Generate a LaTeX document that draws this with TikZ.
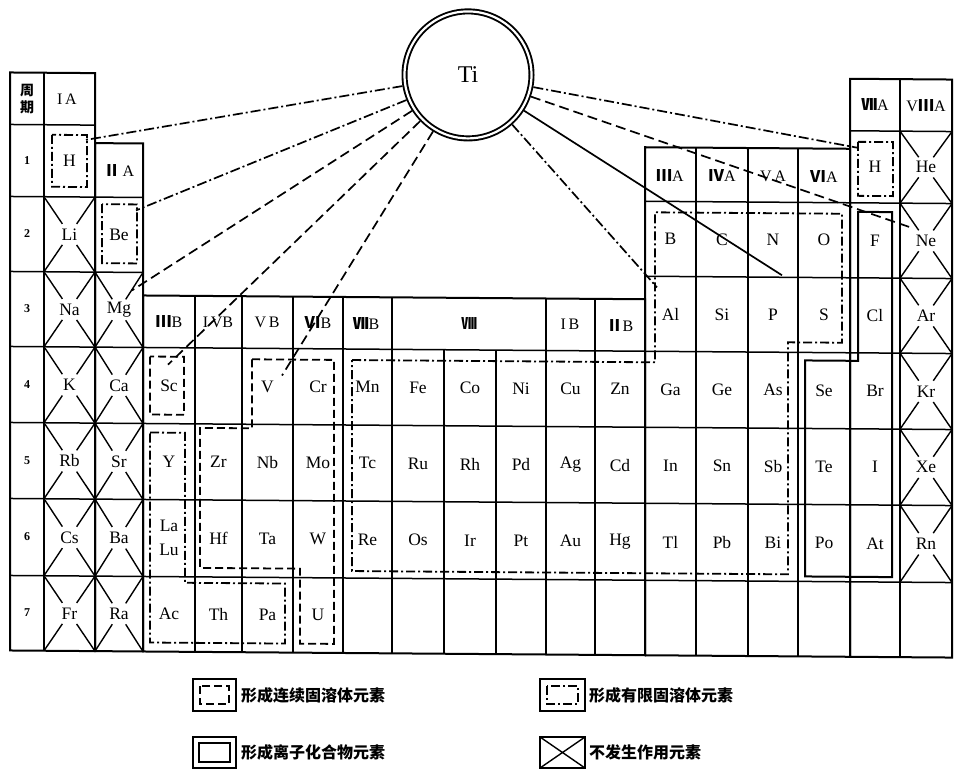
\documentclass[tikz,border=0pt]{standalone}
\usepackage{fontspec}
\setmainfont{Liberation Serif}
\newfontfamily\cjk{Noto Sans CJK SC}
\usetikzlibrary{calc}
\newcommand\rn[1]{{\cjk\bfseries #1}}
\newcommand\XV[1]{\ifcase#1 10\or 44\or 95\or 143\or 195\or 242\or 293\or 343\or 392\or 444\or 496\or 546\or 595\or 645\or 696\or 748\or 798\or 850\or 900\or 952\fi}
\newcommand\YV[1]{\ifcase#1 76\or 128\or 200\or 275\or 350\or 426\or 502\or 579\or 654\fi}
\newcommand\E[4]{%
  \pgfmathtruncatemacro\qia{#2+1}\pgfmathtruncatemacro\qib{#3+1}%
  \edef\qxa{\XV{#2}}\edef\qxb{\XV{\qia}}\edef\qya{\YV{#3}}\edef\qyb{\YV{\qib}}%
  \pgfmathsetmacro\qex{(\qxa+\qxb)/2}%
  \pgfmathsetmacro\qey{(\qya+\qyb)/2}%
  \node[el] (#1) at (\qex,\qey) {#4};}
\newcommand\XC[2]{%
  \pgfmathtruncatemacro\qia{#1+1}\pgfmathtruncatemacro\qib{#2+1}%
  \edef\qxa{\XV{#1}}\edef\qxb{\XV{\qia}}\edef\qya{\YV{#2}}\edef\qyb{\YV{\qib}}%
  \draw[xl] (\qxa,\qya) -- ($(\qxa,\qya)!.36!(\qxb,\qyb)$);
  \draw[xl] (\qxb,\qyb) -- ($(\qxb,\qyb)!.36!(\qxa,\qya)$);
  \draw[xl] (\qxb,\qya) -- ($(\qxb,\qya)!.36!(\qxa,\qyb)$);
  \draw[xl] (\qxa,\qyb) -- ($(\qxa,\qyb)!.36!(\qxb,\qya)$);}
\begin{document}
\begin{tikzpicture}[x=1pt,y=-1pt,
  grid/.style={line width=1.5pt},
  frame/.style={line width=2pt},
  el/.style={font=\fontsize{17.5}{19}\selectfont, inner sep=0pt},
  hd/.style={font=\fontsize{16}{18}\selectfont, inner sep=0pt},
  pn/.style={font=\fontsize{12}{14}\selectfont\bfseries, inner sep=0pt},
  dd/.style={line width=1.7pt, dash pattern=on 10pt off 3pt on 2pt off 3pt},
  ds/.style={line width=1.7pt, dash pattern=on 10pt off 5pt},
  rdd/.style={line width=1.8pt, dash pattern=on 9pt off 3pt on 2pt off 3pt},
  rds/.style={line width=1.8pt, dash pattern=on 8pt off 4pt},
  rso/.style={line width=2pt},
  xl/.style={line width=1.4pt},
  lg/.style={font=\cjk\bfseries\fontsize{16}{18}\selectfont, anchor=west, inner sep=0pt},
]
\useasboundingbox (0,0) rectangle (955,771);
\begin{scope}[shift={(480,0)}, yslant=-0.0075, shift={(-480,0)}]
% ---------- grid ----------
\draw[frame] (10,76) rectangle (95,654);
\draw[grid] (44,76) -- (44,654);
\foreach \y in {128,200,275,350,426,502,579} \draw[grid] (10,\y) -- (95,\y);
\draw[frame] (95,146) rectangle (143,654);
\foreach \y in {200,275,350,426,502,579} \draw[grid] (95,\y) -- (143,\y);
\draw[frame] (143,298) rectangle (645,654);
\foreach \y in {350,426,502,579} \draw[grid] (143,\y) -- (645,\y);
\foreach \x in {195,242,293,343,392,546,595} \draw[grid] (\x,298) -- (\x,654);
\foreach \x in {444,496} \draw[grid] (\x,350) -- (\x,654);
\draw[frame] (645,146) rectangle (850,654);
\foreach \y in {200,275,350,426,502,579} \draw[grid] (645,\y) -- (850,\y);
\foreach \x in {696,748,798} \draw[grid] (\x,146) -- (\x,654);
\draw[frame] (850,76) rectangle (952,654);
\draw[grid] (900,76) -- (900,654);
\foreach \y in {128,200,275,350,426,502,579} \draw[grid] (850,\y) -- (952,\y);
% ---------- crossed cells ----------
\foreach \r in {2,...,7} {\XC{1}{\r}}
\foreach \r in {3,...,7} {\XC{2}{\r}}
\foreach \r in {1,...,6} {\XC{18}{\r}}
% ---------- period column ----------
\node[font=\cjk\bfseries\fontsize{14}{17}\selectfont, align=center, inner sep=0pt] (zq) at (27,102) {周\\期};
\node[pn] (p1) at (27,164) {1};
\node[pn] (p2) at (27,237) {2};
\node[pn] (p3) at (27,312) {3};
\node[pn] (p4) at (27,388) {4};
\node[pn] (p5) at (27,464) {5};
\node[pn] (p6) at (27,540) {6};
\node[pn] (p7) at (27,616) {7};
% ---------- headers ----------
\node[hd] (gIA) at (67,102) {I\,A};
\node[hd] (gIIA) at (119,173) {\rn{Ⅱ}\,A};
\node[hd] (gIIIB) at (169,324) {\rn{Ⅲ}B};
\node[hd] (gIVB) at (218,324) {I\,VB};
\node[hd] (gVB) at (267,324) {V\,B};
\node[hd] (gVIB) at (318,324) {\rn{Ⅵ}B};
\node[hd] (gVIIB) at (366,324) {\rn{Ⅶ}B};
\node[hd] (gVIII) at (469,324) {\rn{Ⅷ}};
\node[hd] (gIB) at (570,324) {I\,B};
\node[hd] (gIIB) at (620,324) {\rn{Ⅱ}B};
\node[hd] (gIIIA) at (670,174) {\rn{Ⅲ}A};
\node[hd] (gIVA) at (722,174) {\rn{Ⅳ}A};
\node[hd] (gVA) at (773,174) {V\,A};
\node[hd] (gVIA) at (824,174) {\rn{Ⅵ}A};
\node[hd] (gVIIA) at (875,102) {\rn{Ⅶ}A};
\node[hd] (gVIIIA) at (926,102) {V\rn{Ⅲ}A};
% ---------- elements ----------
\E{H1}{1}{1}{H}\E{Li}{1}{2}{Li}\E{Na}{1}{3}{Na}\E{K}{1}{4}{K}\E{Rb}{1}{5}{Rb}\E{Cs}{1}{6}{Cs}\E{Fr}{1}{7}{Fr}
\E{Be}{2}{2}{Be}\E{Mg}{2}{3}{Mg}\E{Ca}{2}{4}{Ca}\E{Sr}{2}{5}{Sr}\E{Ba}{2}{6}{Ba}\E{Ra}{2}{7}{Ra}
\E{Sc}{3}{4}{Sc}\E{Y}{3}{5}{Y}\E{Ac}{3}{7}{Ac}
\node[el, align=center, font=\fontsize{17.5}{24}\selectfont] (LaLu) at (169,540) {La\\Lu};
\E{Zr}{4}{5}{Zr}\E{Hf}{4}{6}{Hf}\E{Th}{4}{7}{Th}
\E{V}{5}{4}{V}\E{Nb}{5}{5}{Nb}\E{Ta}{5}{6}{Ta}\E{Pa}{5}{7}{Pa}
\E{Cr}{6}{4}{Cr}\E{Mo}{6}{5}{Mo}\E{W}{6}{6}{W}\E{U}{6}{7}{U}
\E{Mn}{7}{4}{Mn}\E{Tc}{7}{5}{Tc}\E{Re}{7}{6}{Re}
\E{Fe}{8}{4}{Fe}\E{Ru}{8}{5}{Ru}\E{Os}{8}{6}{Os}
\E{Co}{9}{4}{Co}\E{Rh}{9}{5}{Rh}\E{Ir}{9}{6}{Ir}
\E{Ni}{10}{4}{Ni}\E{Pd}{10}{5}{Pd}\E{Pt}{10}{6}{Pt}
\E{Cu}{11}{4}{Cu}\E{Ag}{11}{5}{Ag}\E{Au}{11}{6}{Au}
\E{Zn}{12}{4}{Zn}\E{Cd}{12}{5}{Cd}\E{Hg}{12}{6}{Hg}
\E{B}{13}{2}{B}\E{Al}{13}{3}{Al}\E{Ga}{13}{4}{Ga}\E{In}{13}{5}{In}\E{Tl}{13}{6}{Tl}
\E{C}{14}{2}{C}\E{Si}{14}{3}{Si}\E{Ge}{14}{4}{Ge}\E{Sn}{14}{5}{Sn}\E{Pb}{14}{6}{Pb}
\E{N}{15}{2}{N}\E{P}{15}{3}{P}\E{As}{15}{4}{As}\E{Sb}{15}{5}{Sb}\E{Bi}{15}{6}{Bi}
\E{O}{16}{2}{O}\E{S}{16}{3}{S}\E{Se}{16}{4}{Se}\E{Te}{16}{5}{Te}\E{Po}{16}{6}{Po}
\E{H2}{17}{1}{H}\E{F}{17}{2}{F}\E{Cl}{17}{3}{Cl}\E{Br}{17}{4}{Br}\E{I}{17}{5}{I}\E{At}{17}{6}{At}
\E{He}{18}{1}{He}\E{Ne}{18}{2}{Ne}\E{Ar}{18}{3}{Ar}\E{Kr}{18}{4}{Kr}\E{Xe}{18}{5}{Xe}\E{Rn}{18}{6}{Rn}
% ---------- region outlines ----------
\draw[rdd] (52,138) rectangle (87,190);
\draw[rdd] (102,207) rectangle (137,266);
\draw[rdd] (858,139) rectangle (893,193);
\draw[rds] (150,359) rectangle (184,417);
\draw[rds] (252,361) -- (334,361) -- (334,645) -- (300,645) -- (300,570) -- (200,570) -- (200,430) -- (252,430) -- cycle;
\draw[rdd] (150,435) -- (185,435) -- (185,585) -- (285,585) -- (285,645) -- (150,645) -- cycle;
\draw[rdd] (352,361) -- (655,361) -- (655,211) -- (842,211) -- (842,340) -- (788,340) -- (788,572) -- (352,572) -- cycle;
\draw[rso] (858,209) -- (892,209) -- (892,574) -- (805,574) -- (805,358) -- (858,358) -- cycle;
% ---------- Ti and its connectors ----------
\node[circle, draw, line width=1.9pt, double=white, double distance=2.2pt, minimum size=127pt, outer sep=3pt, font=\fontsize{24}{26}\selectfont] (Ti) at (468,75) {Ti};
\coordinate (tH1) at (85,143);
\coordinate (tBe) at (136,213);
\coordinate (tMg) at (132,293);
\coordinate (tSc) at (168,367);
\coordinate (tV) at (282,377);
\coordinate (tH2) at (858,145);
\coordinate (tNe) at (913,225);
\coordinate (tN) at (782,273);
\coordinate (tAl) at (657,286);
\draw[dd] (Ti) -- (tH1);
\draw[dd] (Ti) -- (tBe);
\draw[ds] (Ti) -- (tMg);
\draw[ds] (Ti) -- (tSc);
\draw[ds] (Ti) -- (tV);
\draw[dd] (Ti) -- (tH2);
\draw[ds] (Ti) -- (tNe);
\draw[line width=1.7pt] (Ti) -- (tN);
\draw[dd] (Ti) -- (tAl);
\end{scope}
% ---------- legend ----------
\draw[line width=1.6pt] (193,679) rectangle (236,711);
\draw[rds, line width=1.5pt] (200,686) rectangle (229,704);
\node[lg] (l1) at (241,695) {形成连续固溶体元素};
\draw[line width=1.6pt] (540,679) rectangle (585,711);
\draw[rdd, line width=1.5pt] (547,686) rectangle (578,704);
\node[lg] (l2) at (589,695) {形成有限固溶体元素};
\draw[line width=1.2pt] (193,737) rectangle (236,768);
\draw[line width=2pt] (199,743) rectangle (230,762);
\node[lg] (l3) at (241,752) {形成离子化合物元素};
\draw[line width=1.6pt] (540,737) rectangle (585,768);
\draw[line width=1.4pt] (540,737) -- (585,768) (585,737) -- (540,768);
\node[lg] (l4) at (589,752) {不发生作用元素};
\end{tikzpicture}
\end{document}
